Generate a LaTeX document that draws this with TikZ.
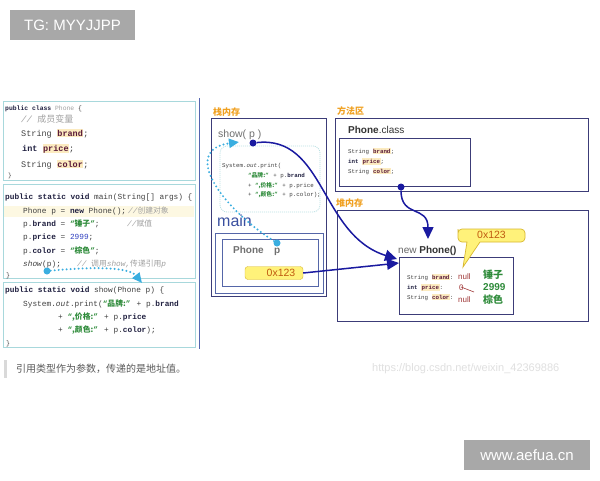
\documentclass[tikz,border=0pt]{standalone}
\usepackage{fontspec}
\setmainfont{Liberation Sans}
\newfontfamily\cjk{Noto Sans CJK SC}
\newfontfamily\codefont{Liberation Mono}
\usetikzlibrary{arrows.meta}
\definecolor{codeline}{HTML}{A8D8DC}
\definecolor{codetxt}{HTML}{404040}
\definecolor{kwc}{HTML}{202040}
\definecolor{fieldc}{HTML}{5A1A3A}
\definecolor{hlyel}{HTML}{FCEBC0}
\definecolor{lineyel}{HTML}{FDF8E2}
\definecolor{strgreen}{HTML}{2E8B3A}
\definecolor{numblue}{HTML}{3040C0}
\definecolor{cmtgray}{HTML}{A0A0A0}
\definecolor{memline}{HTML}{3C3C78}
\definecolor{innerline}{HTML}{5566A8}
\definecolor{orangelab}{HTML}{F0A020}
\definecolor{arrowblue}{HTML}{1A1AA0}
\definecolor{dotcyan}{HTML}{3AAEE0}
\definecolor{boxyel}{HTML}{FFF27A}
\definecolor{boxyeld}{HTML}{D8B830}
\definecolor{addrtxt}{HTML}{C05A10}
\definecolor{wmgray}{HTML}{A8A8A8}
\definecolor{sepblue}{HTML}{5566B0}
\definecolor{nullred}{HTML}{A03838}
\definecolor{labgray}{HTML}{707070}
\definecolor{mainblue}{HTML}{3A50A0}
\newcommand\kw[1]{\textbf{\color{kwc}#1}}
\newcommand\fld[1]{{\setlength\fboxsep{0.5pt}\colorbox{hlyel}{\textbf{\color{fieldc}#1}}}}
\newcommand\zs[1]{{\bfseries\color{strgreen}“{\cjk #1}”}}
\newcommand\zc[1]{{\cjk #1}}
\begin{document}
\begin{tikzpicture}[x=1pt,y=-1pt,
  codeA/.style={anchor=base west, inner sep=0pt, text=codetxt, font=\codefont\fontsize{8.5}{10}\selectfont},
  codeB/.style={anchor=base west, inner sep=0pt, text=codetxt, font=\codefont\fontsize{7.8}{9.5}\selectfont},
  codeS/.style={anchor=base west, inner sep=0pt, text=codetxt, font=\codefont\fontsize{5.8}{7}\selectfont},
  cmt/.style={anchor=base west, inner sep=0pt, text=cmtgray, font=\codefont\itshape\fontsize{7.8}{9.5}\selectfont},
  codebox/.style={draw=codeline, line width=1pt},
  membox/.style={draw=memline, line width=1pt},
  innerbox/.style={draw=innerline, line width=0.8pt},
  memlab/.style={anchor=base west, inner sep=0pt, text=orangelab, font=\cjk\bfseries\fontsize{9}{10}\selectfont},
  sanslab/.style={anchor=base west, inner sep=0pt, text=labgray, font=\fontsize{10}{12}\selectfont},
  addr/.style={draw=boxyeld, fill=boxyel, rounded corners=3pt, text=addrtxt, font=\fontsize{10.5}{12}\selectfont, inner sep=0pt},
  solidarr/.style={draw=arrowblue, line width=1.5pt, -{Triangle[length=12pt,width=11pt]}},
  dotarr/.style={draw=dotcyan, line width=2.2pt, line cap=round, dash pattern=on 0pt off 4pt, -{Triangle[length=10pt,width=9pt]}},
  bdot/.style={circle, fill=arrowblue, inner sep=0pt, minimum size=7pt},
  cdot/.style={circle, fill=dotcyan, inner sep=0pt, minimum size=7pt},
  wm/.style={fill=wmgray, text=white, font=\fontsize{15}{16}\selectfont, inner sep=0pt, anchor=center},
  green/.style={anchor=base west, inner sep=0pt, text=strgreen, font=\bfseries\fontsize{10}{12}\selectfont},
  nullv/.style={anchor=base west, inner sep=0pt, text=nullred, font=\fontsize{8}{9}\selectfont}
]
\useasboundingbox (0,0) rectangle (600,480);
\fill[white] (0,0) rectangle (600,480);

% watermarks
\node[wm, minimum width=125pt, minimum height=30pt] (tg) at (72.5,25) {TG: MYYJJPP};
\node[wm, minimum width=126pt, minimum height=30pt] (aef) at (527,455) {www.aefua.cn};

% ---------------- code boxes ----------------
\draw[codebox] (3,101) rectangle (195,180);
\fill[lineyel] (4,206) rectangle (194,217);
\draw[codebox] (3,184) rectangle (195,278);
\draw[codebox] (3,282) rectangle (195,347);
\draw[draw=sepblue, line width=1.5pt] (199.5,98) -- (199.5,349);

% box 1
\node[codeA, font=\codefont\fontsize{6.4}{7}\selectfont] (b1l1) at (5,110) {\kw{public class} {\color{cmtgray}Phone} \{};
\node[cmt, font=\codefont\itshape\fontsize{9}{10}\selectfont] (b1l2) at (21,122) {// \zc{成员变量}};
\node[codeA] (b1l3) at (21,136) {String \fld{brand};};
\node[codeA] (b1l4) at (22,151) {\kw{int} \fld{price};};
\node[codeA] (b1l5) at (21,167) {String \fld{color};};
\node[codeA, font=\codefont\fontsize{6}{7}\selectfont] (b1l6) at (8,177) {\}};

% box 2
\node[codeB] (b2l1) at (5,199) {\kw{public static void} main(String[] args) \{};
\node[codeB] (b2l2) at (23,213) {Phone p = \kw{new} Phone();};
\node[cmt] (b2c2) at (128,213) {//\zc{创建对象}};
\node[codeB] (b2l3) at (23,226) {p.\kw{brand} = \zs{锤子};};
\node[cmt] (b2c3) at (127,226) {//\zc{赋值}};
\node[codeB] (b2l4) at (23,239) {p.\kw{price} = {\color{numblue}2999};};
\node[codeB] (b2l5) at (23,253) {p.\kw{color} = \zs{棕色};};
\node[codeB] (b2l6) at (23,266) {\textit{show}(p);};
\node[cmt] (b2c6) at (77,266) {// \zc{调用}show,\zc{传递引用}p};
\node[codeB, font=\codefont\fontsize{6.5}{7}\selectfont] (b2l7) at (6,277) {\}};

% box 3
\node[codeB] (b3l1) at (5,292) {\kw{public static void} show(Phone p) \{};
\node[codeB] (b3l2) at (23,306) {System.\textit{out}.print(\zs{品牌:} + p.\kw{brand}};
\node[codeB] (b3l3) at (58,319) {+ \zs{,价格:} + p.\kw{price}};
\node[codeB] (b3l4) at (58,332) {+ \zs{,颜色:} + p.\kw{color});};
\node[codeB, font=\codefont\fontsize{6.5}{7}\selectfont] (b3l5) at (6,345) {\}};

% ---------------- stack ----------------
\node[memlab] (stacklab) at (213,115) {栈内存};
\draw[membox] (211,118) rectangle (326,296);
\node[sanslab, font=\fontsize{10.5}{12}\selectfont] (showlab) at (218,137) {show( p )};
\draw[draw=codeline!80, line width=0.8pt, dash pattern=on 1pt off 1pt, rounded corners=7pt] (220,146) rectangle (320,212);
\node[codeS] (s1) at (222,167) {System.\textit{out}.print(};
\node[codeS] (s2) at (248,177) {\zs{品牌:} + p.\kw{brand}};
\node[codeS] (s3) at (248,187) {+ \zs{,价格:} + p.price};
\node[codeS] (s4) at (248,196) {+ \zs{,颜色:} + p.color);};
\node[anchor=base west, inner sep=0pt, text=mainblue, font=\fontsize{16}{18}\selectfont] (mainlab) at (217,226) {main};
\draw[innerbox] (215,233) rectangle (323,293);
\draw[innerbox] (222,239) rectangle (318,286);
\node[sanslab, font=\bfseries\fontsize{10}{12}\selectfont] (phonep) at (233,253) {Phone};
\node[sanslab, font=\bfseries\fontsize{10}{12}\selectfont] (pvar) at (274,253) {p};
\node[addr, minimum width=58pt, minimum height=13pt] (addr1) at (274,273) {\hspace*{14pt}0x123};

% ---------------- method area ----------------
\node[memlab] (methlab) at (337,114) {方法区};
\draw[membox] (335,118) rectangle (588,191);
\node[anchor=base west, inner sep=0pt, text=black!80, font=\fontsize{10}{12}\selectfont] (pclass) at (348,133) {\textbf{Phone}.class};
\draw[membox] (339,138) rectangle (470,186);
\node[codeS] (m1) at (348,153) {String \fld{brand};};
\node[codeS] (m2) at (348,163) {\kw{int} \fld{price};};
\node[codeS] (m3) at (348,173) {String \fld{color};};

% ---------------- heap ----------------
\node[memlab] (heaplab) at (336,206.5) {堆内存};
\draw[membox] (337,210) rectangle (588,321);
\node[sanslab, text=black!60] (newlab) at (398,253) {new \textbf{\color{black!80}Phone()}};
\draw[membox] (399,257) rectangle (513,314);
\node[codeS] (h1) at (407,279) {String \fld{brand}:};
\node[codeS] (h2) at (407,289) {\kw{int} \fld{price}:};
\node[codeS] (h3) at (407,299) {String \fld{color}:};
\node[nullv] (n1) at (458,279) {null};
\node[nullv] (n2) at (459,290) {0};
\draw[draw=nullred, line width=0.6pt] (461,287) -- (474,292);
\node[nullv] (n3) at (458,302) {null};
\node[green] (g1) at (483,278) {\cjk\bfseries 锤子};
\node[green] (g2) at (483,290) {2999};
\node[green] (g3) at (483,303) {\cjk\bfseries 棕色};

% callout
\draw[draw=boxyeld, fill=boxyel, line width=0.7pt] (458,233) [rounded corners=4pt] -- (458,229) -- (525,229) -- (525,242) [sharp corners] -- (480,242) -- (463,267) -- (467,242) [rounded corners=4pt] -- (458,242) -- cycle;
\node[inner sep=0pt, text=addrtxt, font=\fontsize{10.5}{12}\selectfont] (addr2) at (491.5,234.5) {0x123};

% ---------------- connectors ----------------
\node[bdot] (bd1) at (253,143) {};
\node[bdot] (bd2) at (401,187) {};
\node[cdot] (cd1) at (47,271) {};
\node[cdot] (cd2) at (277,243) {};
\coordinate (objin1) at (397,259);
\coordinate (objin2) at (399,263);
\coordinate (objtop) at (428,239);
\coordinate (showin) at (142,283);
\coordinate (showp) at (239,142);

\draw[solidarr] (bd1) .. controls (325,135) and (320,235) .. (objin1);
\draw[solidarr] (addr1.east) -- (objin2);
\draw[solidarr] (bd2) .. controls (401,218) and (428,205) .. (objtop);
\draw[dotarr] (cd1) .. controls (100,266) and (130,268) .. (showin);
\draw[dotarr] (cd2) .. controls (222,208) and (180,150) .. (showp);

% ---------------- caption ----------------
\fill[black!15] (4,360) rectangle (7,378);
\node[anchor=west, inner sep=0pt, text=black!65, font=\cjk\fontsize{10}{12}\selectfont] (cap) at (16,369) {引用类型作为参数，传递的是地址值。};
\node[anchor=west, inner sep=0pt, text=black!12, font=\fontsize{11}{12}\selectfont] (url) at (372,369) {https://blog.csdn.net/weixin\_42369886};
\end{tikzpicture}
\end{document}
